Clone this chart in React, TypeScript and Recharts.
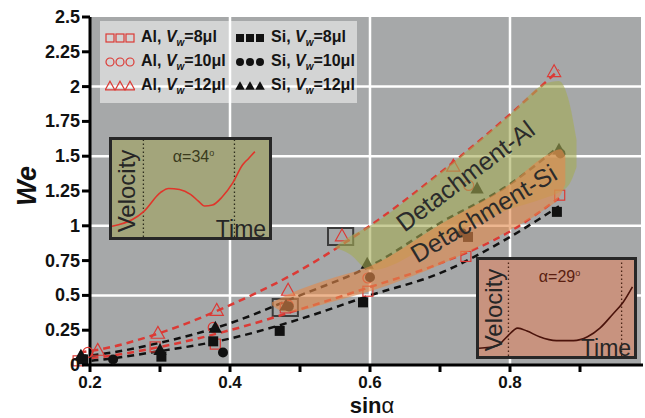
import React from 'react';
import {
  Area,
  CartesianGrid,
  ComposedChart,
  Line,
  LineChart,
  ReferenceArea,
  ReferenceDot,
  ReferenceLine,
  Scatter,
  XAxis,
  YAxis
} from 'recharts';

const FONT = '"Liberation Sans", Arial, Helvetica, sans-serif';
const RED = '#dc3a35';
const INK = '#111111';

// axes
const xTicks = [0.2, 0.3, 0.4, 0.5, 0.6, 0.7, 0.8, 0.9];
const xLabelled = [0.2, 0.4, 0.6, 0.8];
const yTicks = [0, 0.25, 0.5, 0.75, 1, 1.25, 1.5, 1.75, 2, 2.25, 2.5];
const gridX = [0.4, 0.6, 0.8];
const gridY = [0.5, 1, 1.5, 2];

// dashed fit curves, read at these sinα values
const curveX = [0.185, 0.2, 0.3, 0.4, 0.5, 0.6, 0.7, 0.8, 0.87];
const redUpper = [0.09, 0.1, 0.23, 0.43, 0.68, 1.0, 1.38, 1.8, 2.12];
const redLower = [0.045, 0.05, 0.13, 0.25, 0.4, 0.56, 0.73, 0.96, 1.2];
const blackUpper = [0.065, 0.07, 0.16, 0.3, 0.5, 0.71, 1.02, 1.3, 1.57];
const blackLower = [0.025, 0.03, 0.1, 0.19, 0.33, 0.5, 0.66, 0.92, 1.14];

// shaded detachment zones (low / high edge)
const alZoneX = [0.55, 0.57, 0.6, 0.7, 0.8, 0.85, 0.87, 0.885, 0.895];
const alZoneLow = [0.84, 0.8, 0.68, 0.9, 1.12, 1.2, 1.24, 1.3, 1.42];
const alZoneHigh = [0.85, 0.92, 1.0, 1.38, 1.8, 2.02, 2.04, 1.88, 1.62];
const siZoneX = [0.46, 0.48, 0.55, 0.6, 0.7, 0.8, 0.85, 0.872, 0.879];
const siZoneLow = [0.43, 0.38, 0.46, 0.53, 0.72, 0.97, 1.12, 1.22, 1.3];
const siZoneHigh = [0.45, 0.5, 0.63, 0.71, 1.01, 1.3, 1.5, 1.55, 1.5];

// measured points
const al8X = [0.183, 0.293, 0.379, 0.479, 0.597, 0.737, 0.871];
const al8Y = [0.03, 0.13, 0.15, 0.41, 0.53, 0.78, 1.22];
const al10X = [0.197, 0.376, 0.483, 0.597, 0.741];
const al10Y = [0.09, 0.27, 0.43, 0.625, 1.29];
const al12X = [0.211, 0.297, 0.381, 0.483, 0.56, 0.719, 0.863];
const al12Y = [0.108, 0.23, 0.395, 0.54, 0.93, 1.43, 2.11];
const si8X = [0.19, 0.302, 0.376, 0.471, 0.59, 0.74, 0.867];
const si8Y = [0.04, 0.06, 0.17, 0.245, 0.45, 0.92, 1.1];
const si10X = [0.233, 0.39, 0.484, 0.6, 0.731, 0.872];
const si10Y = [0.04, 0.09, 0.42, 0.63, 0.95, 1.52];
const si12X = [0.187, 0.3, 0.379, 0.48, 0.596, 0.753, 0.87];
const si12Y = [0.07, 0.11, 0.27, 0.43, 0.73, 1.27, 1.55];

// inset velocity traces (time %, velocity %)
const inset34T = [0, 13, 20, 31, 36, 43, 50, 55, 59, 64, 70, 77, 83, 87, 91];
const inset34V = [11, 18, 26, 46, 50, 49, 44, 37, 32, 33, 41, 56, 74, 81, 88];
const inset34Marks = [20, 78];
const inset29T = [0, 12, 18, 25, 31, 39, 50, 61, 70, 78, 86, 93, 99];
const inset29V = [8, 11, 20, 29, 26, 20, 16, 16, 20, 29, 43, 56, 72];
const inset29Marks = [19, 92];

type Kind = 'square' | 'circle' | 'triangle';

const seriesMeta: { name: string; vol: string; kind: Kind; open: boolean; xs: number[]; ys: number[] }[] = [
  { name: 'Al', vol: '8', kind: 'square', open: true, xs: al8X, ys: al8Y },
  { name: 'Al', vol: '10', kind: 'circle', open: true, xs: al10X, ys: al10Y },
  { name: 'Al', vol: '12', kind: 'triangle', open: true, xs: al12X, ys: al12Y },
  { name: 'Si', vol: '8', kind: 'square', open: false, xs: si8X, ys: si8Y },
  { name: 'Si', vol: '10', kind: 'circle', open: false, xs: si10X, ys: si10Y },
  { name: 'Si', vol: '12', kind: 'triangle', open: false, xs: si12X, ys: si12Y }
];

// one table for the lines and zones, keyed on x
const table = (() => {
  const rows = new Map<number, any>();
  const put = (xs: number[], key: string, vals: any[]) =>
    xs.forEach((x, i) => {
      const r = rows.get(x) ?? { x };
      r[key] = vals[i];
      rows.set(x, r);
    });
  put(curveX, 'ru', redUpper);
  put(curveX, 'rl', redLower);
  put(curveX, 'bu', blackUpper);
  put(curveX, 'bl', blackLower);
  put(alZoneX, 'alZone', alZoneX.map((_, i) => [alZoneLow[i], alZoneHigh[i]]));
  put(siZoneX, 'siZone', siZoneX.map((_, i) => [siZoneLow[i], siZoneHigh[i]]));
  return [...rows.values()].sort((a, b) => a.x - b.x);
})();

function Marker({ cx, cy, kind, open, size = 5 }: any) {
  if (cx == null || cy == null) return null;
  const color = open ? RED : INK;
  const fill = open ? 'none' : INK;
  const sw = open ? 1.2 : 0;
  if (kind === 'square') {
    return <rect x={cx - size} y={cy - size} width={size * 2} height={size * 2} fill={fill} stroke={color} strokeWidth={sw} />;
  }
  if (kind === 'circle') {
    return <circle cx={cx} cy={cy} r={size} fill={fill} stroke={color} strokeWidth={sw} />;
  }
  const h = size * 1.2;
  return (
    <polygon
      points={`${cx},${cy - h} ${cx + h},${cy + h * 0.8} ${cx - h},${cy + h * 0.8}`}
      fill={fill}
      stroke={color}
      strokeWidth={sw}
    />
  );
}

const YTick = ({ x, y, payload }: any) => (
  <g>
    <line x1={x + 6} x2={x + 14} y1={y} y2={y} stroke="#000" strokeWidth={3} />
    <text x={x + 4} y={y} textAnchor="end" dominantBaseline="central" fontSize={18} fontWeight="bold" fill="#111" fontFamily={FONT}>
      {String(payload.value)}
    </text>
  </g>
);

const XTick = ({ x, y, payload }: any) => (
  <g>
    <line x1={x} x2={x} y1={y} y2={y + 7} stroke="#000" strokeWidth={3} />
    {xLabelled.includes(payload.value) && (
      <text x={x} y={y + 17} textAnchor="middle" dominantBaseline="central" fontSize={17} fontWeight="bold" fill="#111" fontFamily={FONT}>
        {payload.value.toFixed(1)}
      </text>
    )}
  </g>
);

const zoneText = (text: string, angle: number) => ({ cx, cy }: any) => (
  <text
    x={cx}
    y={cy}
    textAnchor="middle"
    dominantBaseline="central"
    transform={`rotate(${angle} ${cx} ${cy})`}
    fontSize={25}
    fill="#2b2b2b"
    fontFamily={FONT}
  >
    {text}
  </text>
);

function Inset({ left, top, width, height, bg, ts, vs, marks, lineColor, markColor, angle, angleColor }: any) {
  const data = ts.map((t: number, i: number) => ({ t, v: vs[i] }));
  const txt = (s: React.ReactNode, cx: number, cy: number, size: number, color: string, rot = 0) => (
    <div
      style={{
        position: 'absolute',
        left: cx - left,
        top: cy - top,
        transform: `translate(-50%, -50%) rotate(${rot}deg)`,
        fontSize: size,
        color,
        whiteSpace: 'nowrap',
        lineHeight: 1
      }}
    >
      {s}
    </div>
  );
  return (
    <div
      style={{
        position: 'absolute',
        left,
        top,
        width,
        height,
        boxSizing: 'border-box',
        border: '3px solid #272727',
        background: bg
      }}
    >
      <div style={{ position: 'absolute', left: 0, top: 0 }}>
        <LineChart width={width - 6} height={height - 6} data={data} margin={{ top: 0, right: 0, bottom: 0, left: 0 }}>
          <XAxis type="number" dataKey="t" domain={[0, 100]} hide />
          <YAxis type="number" domain={[0, 100]} hide />
          {marks.map((m: number) => (
            <ReferenceLine key={m} x={m} stroke={markColor} strokeWidth={1.3} strokeDasharray="1.5 2.5" />
          ))}
          <Line type="monotone" dataKey="v" stroke={lineColor} strokeWidth={1.6} dot={false} isAnimationActive={false} />
        </LineChart>
      </div>
      {txt('Velocity', left + 15, top + height / 2 - 1, 24, '#262626', -90)}
      {txt(
        <span>
          α={angle}
          <sup style={{ fontSize: 9 }}>o</sup>
        </span>,
        left + width / 2,
        top + 17,
        16,
        angleColor
      )}
      {txt('Time', left + width - 34, top + height - 14, 23, '#262626')}
    </div>
  );
}

function LegendSymbol({ kind, open }: { kind: Kind; open: boolean }) {
  return (
    <svg width={30} height={12} style={{ verticalAlign: 'middle', marginRight: 6 }}>
      {[5, 15, 25].map((cx) => (
        <Marker key={cx} cx={cx} cy={6} kind={kind} open={open} size={4} />
      ))}
    </svg>
  );
}

function ChartLegend() {
  const cell = (i: number) => {
    const s = seriesMeta[i];
    return (
      <div style={{ height: 24, display: 'flex', alignItems: 'center' }}>
        <LegendSymbol kind={s.kind} open={s.open} />
        <span>
          {s.name}, <i>V</i>
          <sub style={{ fontSize: 10 }}>
            <i>w</i>
          </sub>
          ={s.vol}μl
        </span>
      </div>
    );
  };
  return (
    <div
      style={{
        position: 'absolute',
        left: 100,
        top: 21,
        width: 257,
        height: 82,
        background: 'rgba(255,255,255,0.5)',
        fontSize: 16,
        fontWeight: 'bold',
        color: '#151515',
        display: 'flex',
        padding: '5px 0 0 5px',
        boxSizing: 'border-box'
      }}
    >
      <div style={{ width: 130 }}>{[0, 1, 2].map((i) => <div key={i}>{cell(i)}</div>)}</div>
      <div>{[3, 4, 5].map((i) => <div key={i}>{cell(i)}</div>)}</div>
    </div>
  );
}

export default function App() {
  return (
    <div style={{ position: 'absolute', left: 0, top: 0, width: 645, height: 418, background: '#fff', fontFamily: FONT, overflow: 'hidden' }}>
      <div style={{ position: 'absolute', left: 90, top: 17, width: 551, height: 348, background: '#a6a8a9' }} />
      <div style={{ position: 'absolute', left: 0, top: 0 }}>
        <ComposedChart width={645} height={418} data={table} margin={{ top: 17, right: 2, bottom: 0, left: 0 }}>
          <CartesianGrid stroke="#ffffff" strokeWidth={2.5} horizontalValues={gridY} verticalValues={gridX} />
          <XAxis
            type="number"
            dataKey="x"
            domain={[0.18, 0.99]}
            ticks={xTicks}
            tick={<XTick />}
            tickSize={0}
            tickMargin={0}
            tickLine={false}
            axisLine={false}
            height={53}
            interval={0}
          />
          <YAxis
            type="number"
            domain={[0, 2.5]}
            ticks={yTicks}
            tick={<YTick />}
            tickSize={0}
            tickMargin={0}
            tickLine={false}
            axisLine={false}
            width={76}
            interval={0}
          />
          <Line type="monotone" dataKey="ru" stroke={RED} strokeWidth={2.5} strokeDasharray="7 5" dot={false} connectNulls isAnimationActive={false} />
          <Line type="monotone" dataKey="rl" stroke={RED} strokeWidth={2.5} strokeDasharray="7 5" dot={false} connectNulls isAnimationActive={false} />
          <Line type="monotone" dataKey="bu" stroke={INK} strokeWidth={2.5} strokeDasharray="7 5" dot={false} connectNulls isAnimationActive={false} />
          <Line type="monotone" dataKey="bl" stroke={INK} strokeWidth={2.5} strokeDasharray="7 5" dot={false} connectNulls isAnimationActive={false} />
          {seriesMeta.map((s, i) => (
            <Scatter
              key={i}
              data={s.xs.map((x, j) => ({ x, y: s.ys[j] }))}
              dataKey="y"
              shape={(p: any) => <Marker cx={p.cx} cy={p.cy} kind={s.kind} open={s.open} size={s.kind === 'triangle' ? 5.5 : 5} />}
              isAnimationActive={false}
            />
          ))}
          <Area type="monotone" dataKey="alZone" stroke="none" fill="#a5ab55" fillOpacity={0.6} connectNulls isAnimationActive={false} zIndex={700} />
          <Area type="monotone" dataKey="siZone" stroke="none" fill="#e2894c" fillOpacity={0.62} connectNulls isAnimationActive={false} zIndex={710} />
          <ReferenceArea x1={0.461} x2={0.497} y1={0.352} y2={0.474} fill="none" stroke="#3c3c3c" strokeWidth={2} />
          <ReferenceArea x1={0.54} x2={0.576} y1={0.862} y2={0.984} fill="none" stroke="#3c3c3c" strokeWidth={2} />
          <ReferenceDot x={0.736} y={1.36} r={0} shape={zoneText('Detachment-Al', -37)} zIndex={800} />
          <ReferenceDot x={0.762} y={1.09} r={0} shape={zoneText('Detachment-Si', -31)} zIndex={800} />
          <ReferenceLine x={0.2} stroke="#000" strokeWidth={3} />
          <ReferenceLine segment={[{ x: 0.2, y: 0 }, { x: 0.99, y: 0 }]} stroke="#000" strokeWidth={3} />
        </ComposedChart>
      </div>

      <ChartLegend />

      <Inset
        left={109}
        top={137}
        width={163}
        height={103}
        bg="#a3a57b"
        ts={inset34T}
        vs={inset34V}
        marks={inset34Marks}
        lineColor="#e0352a"
        markColor="#2e2e1e"
        angle={34}
        angleColor="#3a3a1c"
      />
      <Inset
        left={476}
        top={257}
        width={161}
        height={102}
        bg="#c8937f"
        ts={inset29T}
        vs={inset29V}
        marks={inset29Marks}
        lineColor="#4a130b"
        markColor="#4a2516"
        angle={29}
        angleColor="#5a1e10"
      />

      <div
        style={{
          position: 'absolute',
          left: 27,
          top: 186,
          transform: 'translate(-50%, -50%) rotate(-90deg)',
          fontSize: 27,
          fontWeight: 'bold',
          fontStyle: 'italic',
          color: '#111',
          lineHeight: 1
        }}
      >
        We
      </div>
      <div
        style={{
          position: 'absolute',
          left: 372,
          top: 406,
          transform: 'translate(-50%, -50%)',
          fontSize: 22,
          color: '#111',
          lineHeight: 1,
          whiteSpace: 'nowrap'
        }}
      >
        <b>sin</b>α
      </div>
    </div>
  );
}
